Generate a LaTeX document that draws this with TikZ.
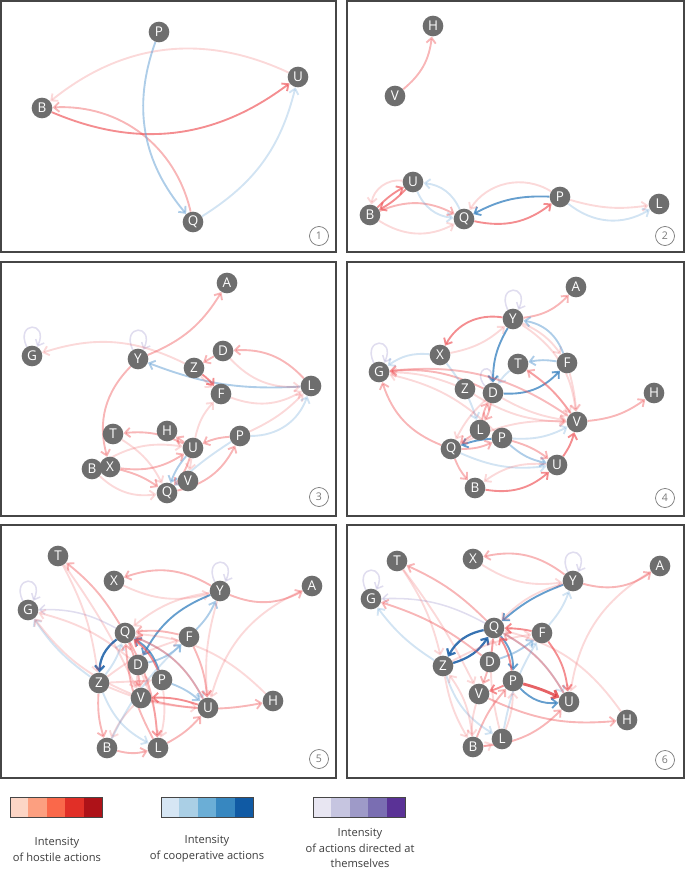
\documentclass[tikz,border=0pt]{standalone}
\usepackage{fontspec}
\setmainfont{Open Sans}
\usepackage{xcolor}
\usetikzlibrary{arrows.meta, backgrounds}
\definecolor{nodeGray}{RGB}{110,110,110}
\definecolor{frameGray}{RGB}{70,70,70}
\definecolor{tagGray}{RGB}{120,120,120}
\definecolor{textGray}{RGB}{60,60,60}
\definecolor{hostLight}{RGB}{238,80,84}
\definecolor{hostDeep}{RGB}{222,45,50}
\definecolor{coopLight}{RGB}{107,164,214}
\definecolor{coopDeep}{RGB}{49,125,189}
\definecolor{coopDark}{RGB}{20,90,165}
\definecolor{selfMid}{RGB}{130,120,190}
\definecolor{redA}{RGB}{252,213,197}
\definecolor{redB}{RGB}{252,159,128}
\definecolor{redC}{RGB}{250,104,74}
\definecolor{redD}{RGB}{225,47,39}
\definecolor{redE}{RGB}{174,18,24}
\definecolor{blueA}{RGB}{214,230,244}
\definecolor{blueB}{RGB}{170,207,229}
\definecolor{blueC}{RGB}{107,174,214}
\definecolor{blueD}{RGB}{55,135,192}
\definecolor{blueE}{RGB}{16,90,164}
\definecolor{purpA}{RGB}{232,230,242}
\definecolor{purpB}{RGB}{198,197,224}
\definecolor{purpC}{RGB}{158,154,200}
\definecolor{purpD}{RGB}{122,110,178}
\definecolor{purpE}{RGB}{90,50,150}

\begin{document}
\begin{tikzpicture}[x=0.03cm, y=-0.03cm,
actor/.style={circle, fill=nodeGray, text=white, inner sep=0pt,
minimum size=0.62cm, font=\fontsize{11.5}{12}\selectfont},
tag/.style={circle, draw=tagGray, line width=0.6pt, text=tagGray,
inner sep=0pt, minimum size=0.57cm, font=\fontsize{9}{10}\selectfont},
panel/.style={draw=frameGray, line width=1.1pt},
legendtext/.style={text=textGray, align=center, font=\fontsize{9.5}{13.6}\selectfont},
edgebase/.style={-{Straight Barb[length=4.5pt,width=8pt]}, line width=1.6pt},
hostA/.style={edgebase, draw=hostLight, draw opacity=0.22},
hostB/.style={edgebase, draw=hostLight, draw opacity=0.42},
hostC/.style={edgebase, draw=hostLight, draw opacity=0.65},
hostD/.style={edgebase, draw=hostDeep, draw opacity=0.75, line width=2.4pt},
coopA/.style={edgebase, draw=coopLight, draw opacity=0.3},
coopB/.style={edgebase, draw=coopLight, draw opacity=0.55},
coopC/.style={edgebase, draw=coopDeep, draw opacity=0.75},
coopD/.style={edgebase, draw=coopDark, draw opacity=0.85, line width=1.9pt},
selfA/.style={edgebase, draw=selfMid, draw opacity=0.25, line width=1.3pt}]
\useasboundingbox (0,0) rectangle (685,870);

% frames
\draw[panel] (1,1) rectangle (336,252);
\draw[panel] (347,1) rectangle (684,252);
\draw[panel] (1,262) rectangle (336,516);
\draw[panel] (347,262) rectangle (684,516);
\draw[panel] (1,525) rectangle (336,778);
\draw[panel] (347,525) rectangle (684,778);
\node[tag] (tag1) at (319,236) {1};
\node[tag] (tag2) at (665,236) {2};
\node[tag] (tag3) at (319,497) {3};
\node[tag] (tag4) at (665,498) {4};
\node[tag] (tag5) at (319,759) {5};
\node[tag] (tag6) at (665,760) {6};

% panel 1
\node[actor] (P1) at (159,32) {P};
\node[actor] (U1) at (298,77) {U};
\node[actor] (B1) at (42,108) {B};
\node[actor] (Q1) at (193,222) {Q};
\begin{scope}[on background layer]
\draw[hostA] (U1) to[bend right=32] (B1);
\draw[hostC] (B1) to[bend right=30] (U1);
\draw[hostB] (Q1) to[bend right=40] (B1);
\draw[coopB] (P1) to[bend right=30] (Q1);
\draw[coopA] (Q1) to[bend right=22] (U1);
\end{scope}

% panel 2
\node[actor] (H2) at (433,26) {H};
\node[actor] (V2) at (395,96) {V};
\node[actor] (U2) at (413,182) {U};
\node[actor] (B2) at (370,215) {B};
\node[actor] (Q2) at (464,219) {Q};
\node[actor] (P2) at (560,197) {P};
\node[actor] (L2) at (659,204) {L};
\begin{scope}[on background layer]
\draw[hostB] (V2) to[bend right=22] (H2);
\draw[hostC] (B2) to[bend left=8] (U2);
\draw[hostC] (U2) to[bend left=8] (B2);
\draw[hostA] (U2) to[bend right=45] (B2);
\draw[hostA] (B2) to[bend right=30] (Q2);
\draw[hostB] (B2) to[bend left=25] (Q2);
\draw[coopA] (Q2) to[bend right=30] (U2);
\draw[coopA] (U2) to[bend right=30] (Q2);
\draw[coopC] (P2) to[bend right=15] (Q2);
\draw[hostA] (P2) to[bend right=45] (Q2);
\draw[hostC] (Q2) to[bend right=25] (P2);
\draw[hostA] (P2) to[bend right=12] (L2);
\draw[coopA] (P2) to[bend right=35] (L2);
\end{scope}

% panel 3
\node[actor] (A3) at (227,283) {A};
\node[actor] (G3) at (32,356) {G};
\node[actor] (Y3) at (138,359) {Y};
\node[actor] (D3) at (223,351) {D};
\node[actor] (Z3) at (194,368) {Z};
\node[actor] (F3) at (221,394) {F};
\node[actor] (L3) at (311,386) {L};
\node[actor] (T3) at (113,434) {T};
\node[actor] (H3) at (167,431) {H};
\node[actor] (P3) at (240,436) {P};
\node[actor] (U3) at (193,448) {U};
\node[actor] (B3) at (92,469) {B};
\node[actor] (X3) at (110,467) {X};
\node[actor] (V3) at (188,481) {V};
\node[actor] (Q3) at (167,493) {Q};
\begin{scope}[on background layer]
\draw[selfA] (G3.120) .. controls +(-12,-26) and +(12,-26) .. (G3.60);
\draw[selfA] (Y3.120) .. controls +(-12,-26) and +(12,-26) .. (Y3.60);
\draw[hostA] (Z3) to[bend right=22] (G3);
\draw[hostB] (Y3) to[bend right=18] (A3);
\draw[hostB] (Y3) to[bend right=30] (X3);
\draw[coopB] (L3) to[bend left=12] (Y3);
\draw[hostB] (D3) to (Z3);
\draw[hostC] (Z3) to[bend left=6] (F3);
\draw[hostA] (Z3) to[bend right=6] (F3);
\draw[hostB] (L3) to[bend right=25] (D3);
\draw[hostA] (D3) to[bend right=25] (L3);
\draw[hostA] (F3) to[bend right=25] (L3);
\draw[hostA] (P3) to[bend right=10] (L3);
\draw[coopA] (P3) to[bend right=35] (L3);
\draw[hostA] (U3) to[bend left=15] (F3);
\draw[hostB] (P3) to[bend right=10] (U3);
\draw[hostB] (U3) to (H3);
\draw[hostB] (U3) to[bend right=15] (T3);
\draw[hostB] (Q3) to[bend right=25] (P3);
\draw[hostB] (X3) to[bend right=20] (U3);
\draw[hostA] (B3) to[bend right=25] (Q3);
\draw[hostA] (T3) to[bend left=15] (Q3);
\draw[hostB] (X3) to[bend left=10] (Q3);
\draw[coopB] (U3) to[bend right=10] (Q3);
\draw[hostB] (U3) to[bend left=12] (Q3);
\draw[coopA] (P3) to[bend right=5] (Q3);
\draw[hostA] (U3) to (V3);
\draw[hostA] (B3) to[bend left=20] (U3);
\end{scope}

% panel 4
\node[actor] (A4) at (576,287) {A};
\node[actor] (Y4) at (513,319) {Y};
\node[actor] (X4) at (440,355) {X};
\node[actor] (T4) at (518,364) {T};
\node[actor] (F4) at (567,363) {F};
\node[actor] (G4) at (379,372) {G};
\node[actor] (Z4) at (465,389) {Z};
\node[actor] (D4) at (493,393) {D};
\node[actor] (H4) at (654,393) {H};
\node[actor] (V4) at (577,422) {V};
\node[actor] (L4) at (480,430) {L};
\node[actor] (P4) at (502,438) {P};
\node[actor] (Q4) at (451,449) {Q};
\node[actor] (U4) at (557,465) {U};
\node[actor] (B4) at (475,488) {B};
\begin{scope}[on background layer]
\draw[selfA] (Y4.120) .. controls +(-12,-26) and +(12,-26) .. (Y4.60);
\draw[selfA] (G4.120) .. controls +(-12,-26) and +(12,-26) .. (G4.60);
\draw[selfA] (D4.140) .. controls +(-14,-18) and +(4,-22) .. (D4.100);
\draw[hostB] (Y4) to[bend right=20] (A4);
\draw[hostC] (Y4) to[bend right=35] (X4);
\draw[hostA] (X4) to[bend right=15] (Y4);
\draw[hostA] (Y4) to[bend left=15] (F4);
\draw[coopC] (Y4) to[bend right=15] (D4);
\draw[coopB] (F4) to[bend right=30] (Y4);
\draw[coopC] (D4) to[bend right=25] (F4);
\draw[coopB] (F4) to[bend right=10] (T4);
\draw[coopA] (T4) to[bend right=10] (D4);
\draw[hostB] (V4) to[bend right=10] (T4);
\draw[hostA] (F4) to[bend left=5] (V4);
\draw[hostA] (T4) to[bend left=10] (V4);
\draw[hostA] (Y4) to[bend left=25] (V4);
\draw[hostB] (D4) to[bend right=15] (G4);
\draw[hostA] (Z4) to[bend right=10] (G4);
\draw[hostA] (V4) to[bend right=20] (G4);
\draw[hostA] (P4) to[bend right=15] (G4);
\draw[hostB] (Q4) to[bend left=25] (G4);
\draw[coopA] (X4) to[bend right=20] (G4);
\draw[coopA] (X4) to[bend left=10] (L4);
\draw[hostA] (G4) to[bend left=20] (V4);
\draw[hostA] (Z4) to[bend right=15] (V4);
\draw[hostA] (D4) to[bend right=10] (V4);
\draw[hostB] (L4) to[bend left=8] (D4);
\draw[hostB] (D4) to[bend left=8] (L4);
\draw[hostA] (D4) to[bend right=10] (Q4);
\draw[coopC] (P4) to[bend right=8] (Q4);
\draw[hostB] (Q4) to[bend right=12] (P4);
\draw[hostB] (L4) to (Q4);
\draw[hostB] (Q4) to[bend right=10] (B4);
\draw[coopA] (Q4) to[bend right=15] (U4);
\draw[coopB] (P4) to[bend right=15] (U4);
\draw[hostB] (P4) to[bend left=10] (U4);
\draw[hostA] (U4) to[bend right=20] (B4);
\draw[hostC] (B4) to[bend right=25] (U4);
\draw[hostC] (U4) to[bend right=10] (V4);
\draw[coopA] (P4) to[bend right=15] (V4);
\draw[hostA] (Q4) to[bend left=15] (V4);
\draw[hostB] (V4) to[bend right=15] (H4);
\end{scope}

% panel 5
\node[actor] (T5) at (58,556) {T};
\node[actor] (X5) at (114,581) {X};
\node[actor] (A5) at (312,586) {A};
\node[actor] (Y5) at (220,591) {Y};
\node[actor] (G5) at (28,610) {G};
\node[actor] (Q5) at (125,633) {Q};
\node[actor] (F5) at (189,637) {F};
\node[actor] (D5) at (138,665) {D};
\node[actor] (P5) at (162,680) {P};
\node[actor] (Z5) at (99,683) {Z};
\node[actor] (V5) at (141,698) {V};
\node[actor] (H5) at (273,701) {H};
\node[actor] (U5) at (208,708) {U};
\node[actor] (B5) at (107,748) {B};
\node[actor] (L5) at (158,748) {L};
\begin{scope}[on background layer]
\draw[selfA] (Y5.120) .. controls +(-12,-26) and +(12,-26) .. (Y5.60);
\draw[selfA] (G5.120) .. controls +(-12,-26) and +(12,-26) .. (G5.60);
\draw[hostB] (Y5) to[bend right=25] (X5);
\draw[hostB] (Y5) to[bend right=25] (A5);
\draw[hostA] (X5) to[bend right=20] (Y5);
\draw[hostB] (Q5) to[bend right=10] (T5);
\draw[hostA] (T5) to[bend left=5] (V5);
\draw[coopC] (Y5) to[bend right=20] (D5);
\draw[coopD] (Q5) to[bend right=25] (Z5);
\draw[coopA] (Z5) to[bend right=10] (Q5);
\draw[coopB] (D5) to[bend right=15] (F5);
\draw[coopB] (F5) to[bend right=10] (Y5);
\draw[coopA] (Q5) to[bend left=20] (U5);
\draw[coopB] (P5) to[bend left=10] (U5);
\draw[coopC] (P5) to[bend right=20] (Q5);
\draw[selfA] (Q5) to[bend right=15] (G5);
\draw[hostA] (D5) to[bend right=12] (G5);
\draw[coopA] (Z5) to[bend left=10] (G5);
\draw[hostA] (V5) to[bend left=15] (G5);
\draw[hostB] (Z5) to[bend right=10] (B5);
\draw[coopA] (Z5) to[bend right=20] (L5);
\draw[hostB] (B5) to[bend right=15] (L5);
\draw[hostB] (L5) to[bend right=10] (U5);
\draw[hostA] (V5) to[bend right=10] (B5);
\draw[hostA] (D5) to[bend left=10] (L5);
\draw[hostB] (L5) to[bend left=12] (Q5);
\draw[hostB] (Q5) to[bend left=12] (L5);
\draw[hostA] (P5) to[bend left=10] (L5);
\draw[hostC] (U5) to[bend right=10] (V5);
\draw[hostB] (V5) to[bend right=12] (H5);
\draw[hostA] (H5) to[bend right=20] (Q5);
\draw[hostA] (A5) to[bend right=25] (U5);
\draw[hostA] (Y5) to[bend right=10] (U5);
\draw[hostB] (F5) to[bend left=10] (U5);
\draw[hostB] (U5) to[bend right=20] (Q5);
\draw[hostB] (F5) to[bend right=10] (Q5);
\draw[hostA] (Y5) to[bend right=15] (Q5);
\draw[hostA] (Z5) to[bend left=10] (F5);
\draw[hostA] (Z5) to (P5);
\draw[hostA] (Z5) to[bend right=10] (U5);
\draw[hostB] (Q5) to[bend left=8] (V5);
\draw[hostC] (P5) to[bend right=15] (Q5);
\draw[hostA] (D5) to[bend right=10] (V5);
\draw[hostA] (T5) to[bend left=10] (Z5);
\draw[coopA] (B5) to[bend left=10] (F5);
\end{scope}

% panel 6
\node[actor] (T6) at (397,561) {T};
\node[actor] (X6) at (473,559) {X};
\node[actor] (A6) at (660,566) {A};
\node[actor] (Y6) at (573,581) {Y};
\node[actor] (G6) at (371,599) {G};
\node[actor] (Q6) at (494,628) {Q};
\node[actor] (F6) at (542,633) {F};
\node[actor] (D6) at (490,662) {D};
\node[actor] (Z6) at (443,666) {Z};
\node[actor] (P6) at (513,681) {P};
\node[actor] (V6) at (479,694) {V};
\node[actor] (U6) at (569,702) {U};
\node[actor] (H6) at (627,720) {H};
\node[actor] (L6) at (502,739) {L};
\node[actor] (B6) at (473,747) {B};
\begin{scope}[on background layer]
\draw[selfA] (Y6.120) .. controls +(-12,-26) and +(12,-26) .. (Y6.60);
\draw[selfA] (G6.120) .. controls +(-12,-26) and +(12,-26) .. (G6.60);
\draw[hostB] (Y6) to[bend right=25] (X6);
\draw[hostB] (Y6) to[bend right=25] (A6);
\draw[hostA] (X6) to[bend right=20] (Y6);
\draw[hostB] (Q6) to[bend right=10] (T6);
\draw[hostA] (T6) to[bend left=5] (V6);
\draw[coopC] (Y6) to[bend right=10] (Q6);
\draw[coopD] (Q6) to[bend right=25] (Z6);
\draw[coopD] (Z6) to[bend right=20] (Q6);
\draw[hostD] (P6) to[bend left=5] (U6);
\draw[coopC] (P6) to[bend right=25] (U6);
\draw[coopC] (Q6) to[bend left=20] (P6);
\draw[hostC] (F6) to[bend left=15] (U6);
\draw[coopB] (D6) to[bend right=10] (F6);
\draw[coopA] (F6) to[bend right=10] (Y6);
\draw[hostC] (F6) to[bend right=5] (Q6);
\draw[hostC] (P6) to[bend left=5] (V6);
\draw[hostB] (V6) to[bend right=15] (H6);
\draw[hostA] (H6) to[bend right=20] (Q6);
\draw[hostA] (A6) to[bend right=25] (U6);
\draw[hostB] (B6) to[bend right=20] (U6);
\draw[hostB] (B6) to[bend left=10] (P6);
\draw[coopA] (Z6) to[bend right=20] (L6);
\draw[hostA] (B6) to[bend right=10] (L6);
\draw[hostA] (V6) to[bend right=10] (B6);
\draw[hostA] (Z6) to[bend right=10] (B6);
\draw[hostA] (L6) to[bend left=10] (Q6);
\draw[selfA] (Q6) to[bend right=15] (G6);
\draw[coopA] (Z6) to[bend left=10] (G6);
\draw[hostB] (D6) to[bend right=10] (G6);
\draw[hostA] (T6) to[bend left=10] (Z6);
\draw[coopA] (Q6) to[bend left=15] (U6);
\draw[hostA] (Y6) to[bend right=15] (Q6);
\draw[hostA] (Z6) to[bend left=10] (F6);
\draw[hostB] (Q6) to[bend left=8] (V6);
\draw[hostC] (P6) to[bend right=12] (Q6);
\draw[hostB] (U6) to[bend right=15] (Q6);
\draw[hostA] (L6) to[bend right=10] (P6);
\draw[hostA] (B6) to[bend right=15] (Z6);
\draw[coopA] (L6) to[bend left=10] (F6);
\end{scope}

% legend
\foreach \c [count=\i] in {redA,redB,redC,redD,redE}
  \fill[\c] ({10+18.4*(\i-1)},797) rectangle ({10+18.4*\i},817);
\foreach \c [count=\i] in {blueA,blueB,blueC,blueD,blueE}
  \fill[\c] ({161+18.4*(\i-1)},797) rectangle ({161+18.4*\i},817);
\foreach \c [count=\i] in {purpA,purpB,purpC,purpD,purpE}
  \fill[\c] ({313+18.4*(\i-1)},797) rectangle ({313+18.4*\i},817);
\draw[frameGray, line width=0.6pt] (10,797) rectangle (102,817);
\draw[frameGray, line width=0.6pt] (161,797) rectangle (253,817);
\draw[frameGray, line width=0.6pt] (313,797) rectangle (405,817);
\node[legendtext] (hostile) at (57,849) {Intensity\\of hostile actions};
\node[legendtext] (cooperative) at (207,849) {Intensity\\of cooperative actions};
\node[legendtext] (themselves) at (360,848) {Intensity\\of actions directed at\\themselves};
\end{tikzpicture}
\end{document}
